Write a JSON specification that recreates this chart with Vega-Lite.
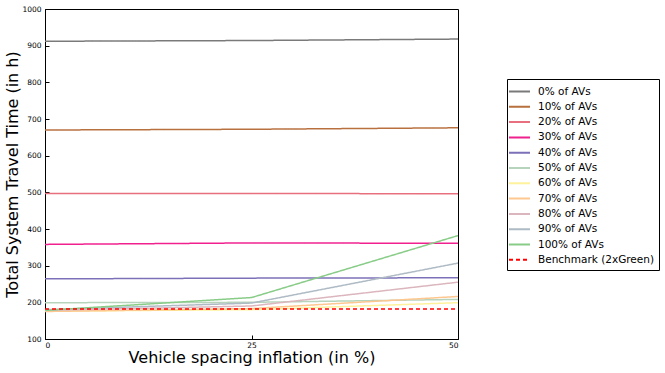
{
  "$schema": "https://vega.github.io/schema/vega-lite/v6.json",
  "width": 413,
  "height": 330,
  "autosize": {"type": "none"},
  "padding": {"left": 45, "top": 9, "right": 207, "bottom": 34},
  "background": "white",
  "config": {
    "font": "DejaVu Sans",
    "view": {"stroke": "black", "strokeWidth": 1},
    "axis": {"grid": false, "domainColor": "black", "tickColor": "black", "labelColor": "black", "titleColor": "black", "labelFont": "DejaVu Sans", "titleFont": "DejaVu Sans", "titleFontWeight": "normal"}
  },
  "data": {
    "values": [
      {"s": "0% of AVs", "x": 0, "y": 912}, {"s": "0% of AVs", "x": 25, "y": 914}, {"s": "0% of AVs", "x": 50, "y": 918},
      {"s": "10% of AVs", "x": 0, "y": 670}, {"s": "10% of AVs", "x": 25, "y": 672}, {"s": "10% of AVs", "x": 50, "y": 676},
      {"s": "20% of AVs", "x": 0, "y": 497}, {"s": "20% of AVs", "x": 25, "y": 497}, {"s": "20% of AVs", "x": 50, "y": 496},
      {"s": "30% of AVs", "x": 0, "y": 358}, {"s": "30% of AVs", "x": 25, "y": 362}, {"s": "30% of AVs", "x": 50, "y": 361},
      {"s": "40% of AVs", "x": 0, "y": 264}, {"s": "40% of AVs", "x": 25, "y": 266}, {"s": "40% of AVs", "x": 50, "y": 267},
      {"s": "50% of AVs", "x": 0, "y": 199}, {"s": "50% of AVs", "x": 25, "y": 200}, {"s": "50% of AVs", "x": 50, "y": 208},
      {"s": "60% of AVs", "x": 0, "y": 176}, {"s": "60% of AVs", "x": 25, "y": 180}, {"s": "60% of AVs", "x": 50, "y": 199},
      {"s": "70% of AVs", "x": 0, "y": 175}, {"s": "70% of AVs", "x": 25, "y": 183}, {"s": "70% of AVs", "x": 50, "y": 216},
      {"s": "80% of AVs", "x": 0, "y": 178}, {"s": "80% of AVs", "x": 25, "y": 190}, {"s": "80% of AVs", "x": 50, "y": 255},
      {"s": "90% of AVs", "x": 0, "y": 180}, {"s": "90% of AVs", "x": 25, "y": 198}, {"s": "90% of AVs", "x": 50, "y": 307},
      {"s": "100% of AVs", "x": 0, "y": 178}, {"s": "100% of AVs", "x": 25, "y": 213}, {"s": "100% of AVs", "x": 50, "y": 382},
      {"s": "Benchmark (2xGreen)", "x": 0, "y": 182}, {"s": "Benchmark (2xGreen)", "x": 25, "y": 182}, {"s": "Benchmark (2xGreen)", "x": 50, "y": 182}
    ]
  },
  "layer": [
    {
      "mark": {"type": "line", "strokeWidth": 1.5, "clip": true},
      "encoding": {
        "x": {"field": "x", "type": "quantitative", "scale": {"domain": [0, 50], "nice": false, "zero": false},
              "axis": {"values": [0, 25, 50], "format": "d", "tickSize": -4, "labelPadding": 6, "labelFontSize": 7.5, "title": "Vehicle spacing inflation (in %)", "titleFontSize": 16, "titlePadding": 1}},
        "y": {"field": "y", "type": "quantitative", "scale": {"domain": [100, 1000], "nice": false, "zero": false},
              "axis": {"values": [100, 200, 300, 400, 500, 600, 700, 800, 900, 1000], "format": "d", "tickSize": -4, "labelPadding": 8, "labelFontSize": 7.5, "title": "Total System Travel Time (in h)", "titleFontSize": 16, "titlePadding": 1}},
        "color": {"field": "s", "type": "nominal",
          "scale": {"domain": ["0% of AVs", "10% of AVs", "20% of AVs", "30% of AVs", "40% of AVs", "50% of AVs", "60% of AVs", "70% of AVs", "80% of AVs", "90% of AVs", "100% of AVs", "Benchmark (2xGreen)"],
                    "range": ["#7a7a7a", "#b8703f", "#e8707e", "#f0208f", "#7c70b8", "#b6d4bb", "#fff29c", "#fdc78f", "#dcb6be", "#afbbc4", "#88cc88", "#ff0000"]},
          "legend": {"title": null, "orient": "none", "legendX": 462, "legendY": 70, "padding": 4, "strokeColor": "black", "fillColor": "white",
                     "symbolType": "M-1.4,0H1.4", "symbolSize": 225, "symbolStrokeWidth": 2, "labelFontSize": 10.5, "labelFont": "DejaVu Sans", "labelColor": "black", "rowPadding": 1.3, "labelOffset": 10}},
        "strokeDash": {"field": "s", "type": "nominal",
          "scale": {"domain": ["0% of AVs", "10% of AVs", "20% of AVs", "30% of AVs", "40% of AVs", "50% of AVs", "60% of AVs", "70% of AVs", "80% of AVs", "90% of AVs", "100% of AVs", "Benchmark (2xGreen)"],
                    "range": [[1, 0], [1, 0], [1, 0], [1, 0], [1, 0], [1, 0], [1, 0], [1, 0], [1, 0], [1, 0], [1, 0], [4, 3]]},
          "legend": {"title": null, "orient": "none", "legendX": 462, "legendY": 70, "padding": 4, "strokeColor": "black", "fillColor": "white",
                     "symbolType": "M-1.4,0H1.4", "symbolSize": 225, "symbolStrokeWidth": 2, "labelFontSize": 10.5, "labelFont": "DejaVu Sans", "labelColor": "black", "rowPadding": 1.3, "labelOffset": 10}},
        "strokeWidth": {"condition": {"test": "datum.s === 'Benchmark (2xGreen)'", "value": 2}, "value": 1.5}
      }
    }
  ]
}
